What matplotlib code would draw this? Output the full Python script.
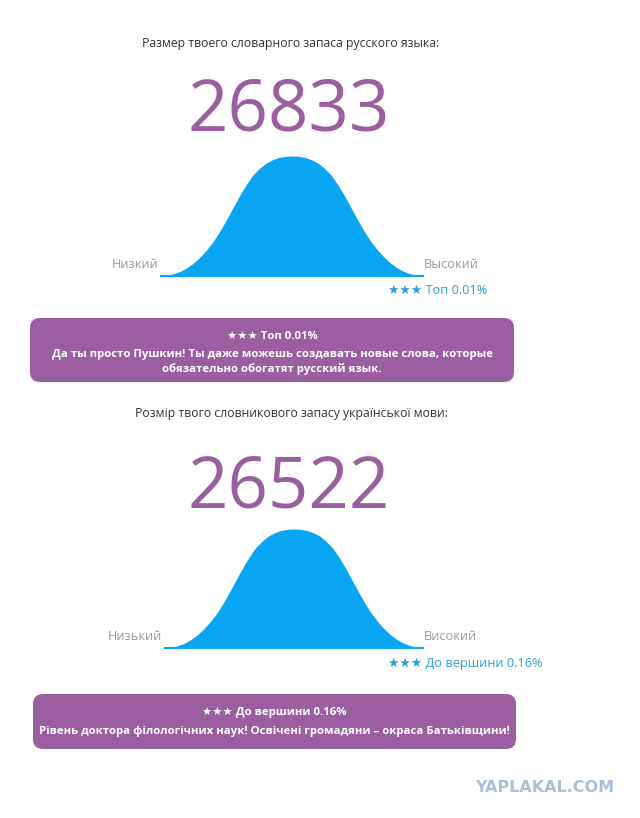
import matplotlib
matplotlib.use('Agg')
import matplotlib.pyplot as plt
from matplotlib.patches import FancyBboxPatch, Rectangle

plt.rcParams['font.family'] = ['Open Sans', 'DejaVu Sans']

# данные
prompts = ['Размер твоего словарного запаса русского языка:',
           'Розмір твого словникового запасу української мови:']
scores = [26833, 26522]
low_labels = ['Низкий', 'Низький']
high_labels = ['Высокий', 'Високий']
rank_labels = ['★★★ Топ 0.01%', '★★★ До вершини 0.16%']
verdicts = ['★★★ Топ 0.01%\nДа ты просто Пушкин! Ты даже можешь создавать новые слова, которые\nобязательно обогатят русский язык.',
            '★★★ До вершини 0.16%\nРівень доктора філологічних наук! Освічені громадяни – окраса Батьківщини!']

# форма колокола: позиция -1..1, высота 0..1
curve_t = [-1.0, -0.95, -0.9, -0.85, -0.8, -0.75, -0.7, -0.65, -0.6, -0.55, -0.5,
           -0.45, -0.4, -0.35, -0.3, -0.25, -0.2, -0.15, -0.1, -0.05, 0.0,
           0.05, 0.1, 0.15, 0.2, 0.25, 0.3, 0.35, 0.4, 0.45, 0.5,
           0.55, 0.6, 0.65, 0.7, 0.75, 0.8, 0.85, 0.9, 0.95, 1.0]
curve_h = [0.0, 0.007, 0.02, 0.04, 0.07, 0.11, 0.16, 0.22, 0.29, 0.375, 0.47,
           0.57, 0.67, 0.76, 0.84, 0.895, 0.94, 0.968, 0.988, 0.997, 1.0,
           0.997, 0.988, 0.968, 0.94, 0.895, 0.84, 0.76, 0.67, 0.57, 0.47,
           0.375, 0.29, 0.22, 0.16, 0.11, 0.07, 0.04, 0.02, 0.007, 0.0]

# разметка блоков в пикселях
blocks = [
    dict(prompt_y=43, score_y=112, base=276, peak=156, cx=292, hw=131, lab_y=265,
         rank_y=290, box=(30, 318, 484, 64), text_y=[336, 354, 369], clip=640),
    dict(prompt_y=413, score_y=489, base=648, peak=529, cx=294, hw=129, lab_y=637,
         rank_y=664, box=(33, 694, 483, 55), text_y=[713, 731], clip=543),
]

purple = '#9b5ea0'
blue = '#08a6f2'

fig = plt.figure(figsize=(6.4, 8.18), dpi=100)
ax = fig.add_axes([0, 0, 1, 1])
ax.set_xlim(0, 640)
ax.set_ylim(818, 0)
ax.axis('off')

for i, b in enumerate(blocks):
    ax.text(291, b['prompt_y'], prompts[i], ha='center', va='center', fontsize=8.8, color='#333333')
    ax.text(289, b['score_y'], str(scores[i]), ha='center', va='center', fontsize=51, color=purple)

    # колокол
    xs = [b['cx'] + t * b['hw'] for t in curve_t]
    ys = [b['base'] - h * (b['base'] - b['peak']) for h in curve_h]
    ax.fill_between(xs, ys, b['base'], color=blue, linewidth=0)
    ax.plot([xs[0], xs[-1]], [b['base'], b['base']], color=blue, lw=1.5)

    ax.text(xs[0] - 3, b['lab_y'], low_labels[i], ha='right', va='center', fontsize=9.2, color='#9a9a9a')
    ax.text(xs[-1] + 1, b['lab_y'], high_labels[i], ha='left', va='center', fontsize=9.2, color='#9a9a9a')
    rt = ax.text(388, b['rank_y'], rank_labels[i], ha='left', va='center', fontsize=9.2, color='#2a9fdc')
    rt.set_clip_path(Rectangle((0, 0), b['clip'], 818, transform=ax.transData))

    # фиолетовая плашка
    x0, y0, w, h = b['box']
    ax.add_patch(FancyBboxPatch((x0, y0), w, h, boxstyle='round,pad=0,rounding_size=10',
                                facecolor=purple, edgecolor='none'))
    for line, ty in zip(verdicts[i].split('\n'), b['text_y']):
        ax.text(x0 + w / 2, ty, line, ha='center', va='center', fontsize=8.2,
                fontweight='bold', color='white')

ax.text(545, 788, 'YAPLAKAL.COM', ha='center', va='center', fontsize=11.5, fontweight='heavy',
        color='#a9bfd6', family=['DejaVu Sans'])

fig.savefig('out.png', dpi=100)
